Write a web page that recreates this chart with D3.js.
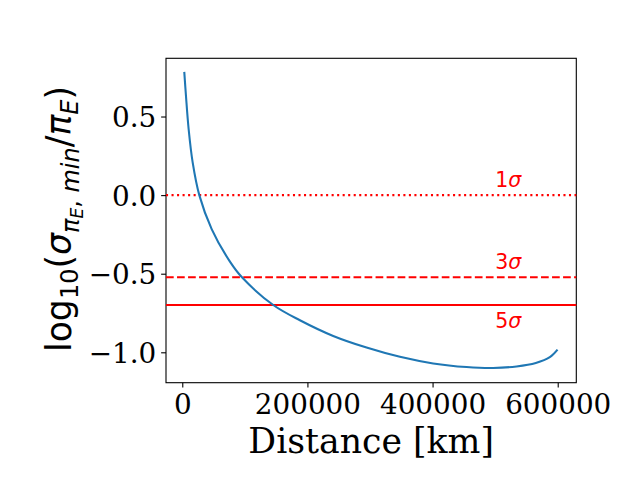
<!doctype html>
<html lang="en">
<head>
	<meta charset="UTF-8">
	<title>sigma ratio vs distance | d3</title>
	<style>
		body { margin: 0; background: #fff; }
		.tick text { font-family: "DejaVu Serif", serif; font-size: 27.8px; fill: #000; }
		.sig { font-family: "DejaVu Sans", sans-serif; font-size: 20.5px; fill: red; }
		.math { font-family: "DejaVu Sans", sans-serif; }
	</style>
</head>
<body>
	<script src="https://cdn.jsdelivr.net/npm/d3@7/dist/d3.min.js"></script>
	<script>
		// curve
		var distanceKm = [3200, 5900, 10200, 16600, 27200, 47000, 76200, 95400, 145400, 188000,
				241200, 294500, 347800, 401000, 454300, 496800, 534200, 565000, 587400, 599700],
			logRatio = [0.784, 0.632, 0.419, 0.208, 0.0, -0.216, -0.423, -0.523, -0.699, -0.796,
				-0.896, -0.970, -1.029, -1.071, -1.094, -1.100, -1.090, -1.068, -1.031, -0.983];

		// sigma thresholds
		var sigmaNames = ['1', '3', '5'],
			sigmaLevels = [Math.log10(1), Math.log10(0.3), Math.log10(0.2)],
			sigmaDash = ['2.08,3.44', '7.7,3.33', null],
			sigmaLabelY = [0.05, -0.468, -0.845],
			sigmaLabelX = 500000;

		var xTicks = [0, 200000, 400000, 600000],
			yTicks = [-1.0, -0.5, 0.0, 0.5];

		var w = 640,
			h = 480,
			axLeft = 166,
			axRight = 576.3,
			axTop = 58.3,
			axBottom = 382.7;

		var svg = d3.select('body')
			.append('svg')
			.attr('width', w)
			.attr('height', h);

		var xScale, yScale;

		var initScales = function() {
			xScale = d3.scaleLinear()
				.domain([-26000, 629700])
				.range([axLeft, axRight]);

			yScale = d3.scaleLinear()
				.domain([-1.1934, 0.8704])
				.range([axBottom, axTop]);
		};

		var drawAxes = function() {
			var xAxis = svg.append('g')
				.attr('transform', 'translate(0,' + axBottom + ')')
				.call(d3.axisBottom(xScale).tickValues(xTicks).tickFormat(d3.format('d'))
					.tickSizeInner(4.86).tickSizeOuter(0).tickPadding(4.86));

			var yAxis = svg.append('g')
				.attr('transform', 'translate(' + axLeft + ',0)')
				.call(d3.axisLeft(yScale).tickValues(yTicks)
					.tickFormat(function(d) { return d3.format('.1f')(d).replace('-', '\u2212'); })
					.tickSizeInner(4.86).tickSizeOuter(0).tickPadding(4.86));

			[xAxis, yAxis].forEach(function(g) {
				g.select('.domain').remove();
				g.selectAll('.tick line').attr('stroke', '#000').attr('stroke-width', 1.1);
			});
			xAxis.selectAll('.tick text').attr('dy', '0.76em');
			yAxis.selectAll('.tick text').attr('dy', '0.36em');

			svg.append('rect')
				.attr('x', axLeft)
				.attr('y', axTop)
				.attr('width', axRight - axLeft)
				.attr('height', axBottom - axTop)
				.attr('fill', 'none')
				.attr('stroke', '#000')
				.attr('stroke-width', 1.1);

			svg.append('text')
				.attr('x', (axLeft + axRight) / 2)
				.attr('y', 453.3)
				.attr('text-anchor', 'middle')
				.style('font-family', '"DejaVu Serif", serif')
				.style('font-size', '34.7px')
				.text('Distance [km]');

			// log10(sigma_{pi_E, min}/pi_E), mathtext-like
			var yl = svg.append('text')
				.attr('class', 'math')
				.attr('transform', 'translate(71,' + 219 + ') rotate(-90)')
				.attr('text-anchor', 'middle')
				.style('font-size', '34.7px');
			yl.append('tspan').text('log');
			yl.append('tspan').attr('dy', 7).style('font-size', '24px').text('10');
			yl.append('tspan').attr('dy', -7).text('(');
			yl.append('tspan').style('font-style', 'italic').text('\u03c3');
			yl.append('tspan').attr('dy', 8).style('font-size', '24px').style('font-style', 'italic').text('\u03c0');
			yl.append('tspan').attr('dy', 4).style('font-size', '17px').style('font-style', 'italic').text('E');
			yl.append('tspan').attr('dy', -4).style('font-size', '24px').text(', ');
			yl.append('tspan').style('font-size', '24px').style('font-style', 'italic').text('min');
			yl.append('tspan').attr('dy', -8).text('/');
			yl.append('tspan').style('font-style', 'italic').text('\u03c0');
			yl.append('tspan').attr('dy', 7).style('font-size', '24px').style('font-style', 'italic').text('E');
			yl.append('tspan').attr('dy', -7).text(')');
		};

		var drawGraph = function() {
			var plot = svg.append('g');

			plot.selectAll('line.sigma')
				.data(sigmaLevels)
				.enter()
				.append('line')
				.attr('class', 'sigma')
				.attr('x1', axLeft)
				.attr('x2', axRight)
				.attr('y1', function(d) { return yScale(d); })
				.attr('y2', function(d) { return yScale(d); })
				.attr('stroke', 'red')
				.attr('stroke-width', 2.08)
				.attr('stroke-dasharray', function(d, i) { return sigmaDash[i]; });

			var line = d3.line()
				.x(function(d, i) { return xScale(distanceKm[i]); })
				.y(function(d) { return yScale(d); })
				.curve(d3.curveCatmullRom.alpha(0.5));

			plot.append('path')
				.datum(logRatio)
				.attr('d', line)
				.attr('fill', 'none')
				.attr('stroke', '#1f77b4')
				.attr('stroke-width', 2.08);

			var labels = plot.selectAll('text.sig')
				.data(sigmaNames)
				.enter()
				.append('text')
				.attr('class', 'sig')
				.attr('x', xScale(sigmaLabelX))
				.attr('y', function(d, i) { return yScale(sigmaLabelY[i]); });
			labels.append('tspan').text(function(d) { return d; });
			labels.append('tspan').style('font-style', 'italic').text('\u03c3');
		};

		initScales();
		drawAxes();
		drawGraph();
	</script>
</body>
</html>
